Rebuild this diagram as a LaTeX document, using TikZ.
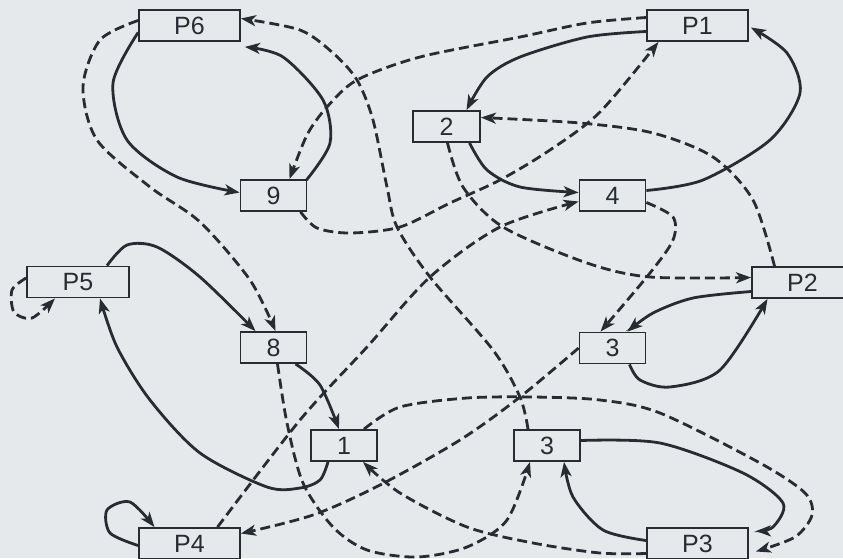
\documentclass[tikz,border=0pt]{standalone}
\usepackage{fontspec}
\setmainfont{Liberation Sans}
\usetikzlibrary{arrows.meta}
\definecolor{bg}{HTML}{E5E9EB}
\definecolor{ink}{HTML}{262C31}
\begin{document}
\begin{tikzpicture}[x=1pt,y=-1pt,
  box/.style={draw=ink, line width=1.8pt, fill=bg, inner sep=0pt, minimum height=31pt,
    font=\fontsize{25}{28}\selectfont, text=ink},
  pbox/.style={box, minimum width=101pt},
  nbox/.style={box, minimum width=66pt},
  sol/.style={draw=ink, line width=2.8pt, -{Stealth[length=15pt,width=11pt,inset=4pt]}},
  dsh/.style={sol, dash pattern=on 10pt off 5pt},
]
\useasboundingbox (0,0) rectangle (843,558);
\fill[bg] (0,0) rectangle (843,558);

% nodes
\node[pbox] (P6) at (189.5,25.5) {P6};
\node[pbox] (P1) at (697.5,25.5) {P1};
\node[nbox, minimum width=67pt] (n2) at (446.5,126.5) {2};
\node[nbox] (n4) at (612.5,195.5) {4};
\node[nbox] (n9) at (273.5,195.5) {9};
\node[pbox, minimum width=102pt] (P5) at (78,282) {P5};
\node[pbox] (P2) at (802.5,282.5) {P2};
\node[nbox] (n8) at (273.5,347.5) {8};
\node[nbox] (n3a) at (612.5,348) {3};
\node[nbox] (n1) at (344,445.5) {1};
\node[nbox] (n3b) at (547,445.5) {3};
\node[pbox] (P4) at (189.5,543.5) {P4};
\node[pbox] (P3) at (697.5,543.5) {P3};

% solid connectors
\draw[sol] plot[smooth] coordinates {([yshift=-7pt]P6.west) (113,83) (127,140) (177,177) ([yshift=3pt]n9.west)};
\draw[sol] plot[smooth] coordinates {([xshift=-1pt,yshift=-1pt]n9.north east) (330,143) (323,100) (283,57) ([xshift=4pt,yshift=-5pt]P6.south east)};
\draw[sol] plot[smooth] coordinates {([yshift=-6pt]P1.west) (587,37) (520,57) (487,77) ([xshift=20pt]n2.north)};
\draw[sol] plot[smooth] coordinates {([xshift=23pt]n2.south) (487,170) (520,187) ([yshift=3pt]n4.west)};
\draw[sol] plot[smooth] coordinates {([yshift=5pt]n4.east) (703,180) (770,140) (800,93) (787,53) ([yshift=-2pt,xshift=2pt]P1.east)};
\draw[sol] plot[smooth] coordinates {([yshift=-9pt]P2.west) (693,298) (653,313) ([xshift=15pt]n3a.north)};
\draw[sol] plot[smooth] coordinates {([xshift=17pt]n3a.south) (640,380) (670,387) (720,370) ([xshift=-35pt]P2.south)};
\draw[sol] plot[smooth] coordinates {([xshift=29pt]P5.north) (127,245) (157,247) (200,277) ([xshift=-18pt]n8.north)};
\draw[sol] plot[smooth] coordinates {([xshift=22pt]n8.south) (320,385) ([xshift=-5pt]n1.north)};
\draw[sol] plot[smooth] coordinates {([xshift=-16pt]n1.south) (320,480) (300,488) (267,487) (200,453) (150,400) (117,347) ([xshift=22pt]P5.south)};
\draw[sol] plot[smooth] coordinates {([yshift=-2pt]P4.west) (110,533) (107,510) (130,502) ([xshift=-35pt]P4.north)};
\draw[sol] plot[smooth] coordinates {([yshift=5pt]n3b.east) (660,443) (743,473) (783,503) (773,527) ([xshift=7pt,yshift=-4pt]P3.north east)};
\draw[sol] plot[smooth] coordinates {([yshift=3pt]P3.west) (603,530) (573,497) ([xshift=17pt]n3b.south)};

% dashed connectors
\draw[dsh] plot[smooth] coordinates {([yshift=8pt]P1.west) (587,23) (520,37) (420,57) (357,80) (327,107) (307,135) ([xshift=16pt]n9.north)};
\draw[dsh] plot[smooth] coordinates {([xshift=-19pt]n3b.north) (520,397) (493,350) (430,277) (397,227) (387,187) (373,120) (357,80) (333,53) (300,30) ([yshift=7pt]P6.east)};
\draw[dsh] plot[smooth] coordinates {([yshift=5pt]P6.west) (100,40) (83,87) (97,140) (150,187) (200,222) (250,280) ([xshift=2pt]n8.north)};
\draw[dsh] plot[smooth] coordinates {([yshift=4pt]P5.west) (12,290) (14,312) (32,318) ([xshift=-23pt]P5.south)};
\draw[dsh] plot[smooth] coordinates {([xshift=1pt]n2.south) (463,187) (503,227) (587,263) (650,277) ([yshift=5pt]P2.west)};
\draw[dsh] plot[smooth] coordinates {([xshift=-28pt]P2.north) (753,200) (713,157) (653,133) (580,123) ([yshift=9pt]n2.east)};
\draw[dsh] plot[smooth] coordinates {([yshift=-7pt]n4.east) (673,217) (673,240) (650,273) ([xshift=-12pt]n3a.north)};
\draw[dsh] plot[smooth] coordinates {([xshift=27pt]n9.south) (317,228) (350,233) (400,227) (450,203) (500,180) (550,150) (600,112) ([xshift=-39pt]P1.south)};
\draw[dsh] plot[smooth] coordinates {([xshift=28pt]P4.north) (300,420) (367,347) (430,277) (500,227) ([yshift=-6pt]n4.west)};
\draw[dsh] plot[smooth] coordinates {(n3a.west) (520,397) (460,440) (380,485) (313,515) ([yshift=10pt]P4.east)};
\draw[dsh] plot[smooth] coordinates {([xshift=20pt]n1.north) (400,407) (467,398) (533,397) (600,400) (660,413) (760,463) (805,493) (812,515) (795,537) ([xshift=7pt,yshift=-8pt]P3.east)};
\draw[dsh] plot[smooth] coordinates {([yshift=-10pt]P3.west) (600,553) (533,543) (467,527) (400,493) ([xshift=19pt]n1.south)};
\draw[dsh] plot[smooth] coordinates {([xshift=4pt]n8.south) (287,423) (303,483) (333,527) (367,550) (417,557) (467,547) (507,520) ([xshift=-17pt]n3b.south)};
\end{tikzpicture}
\end{document}
